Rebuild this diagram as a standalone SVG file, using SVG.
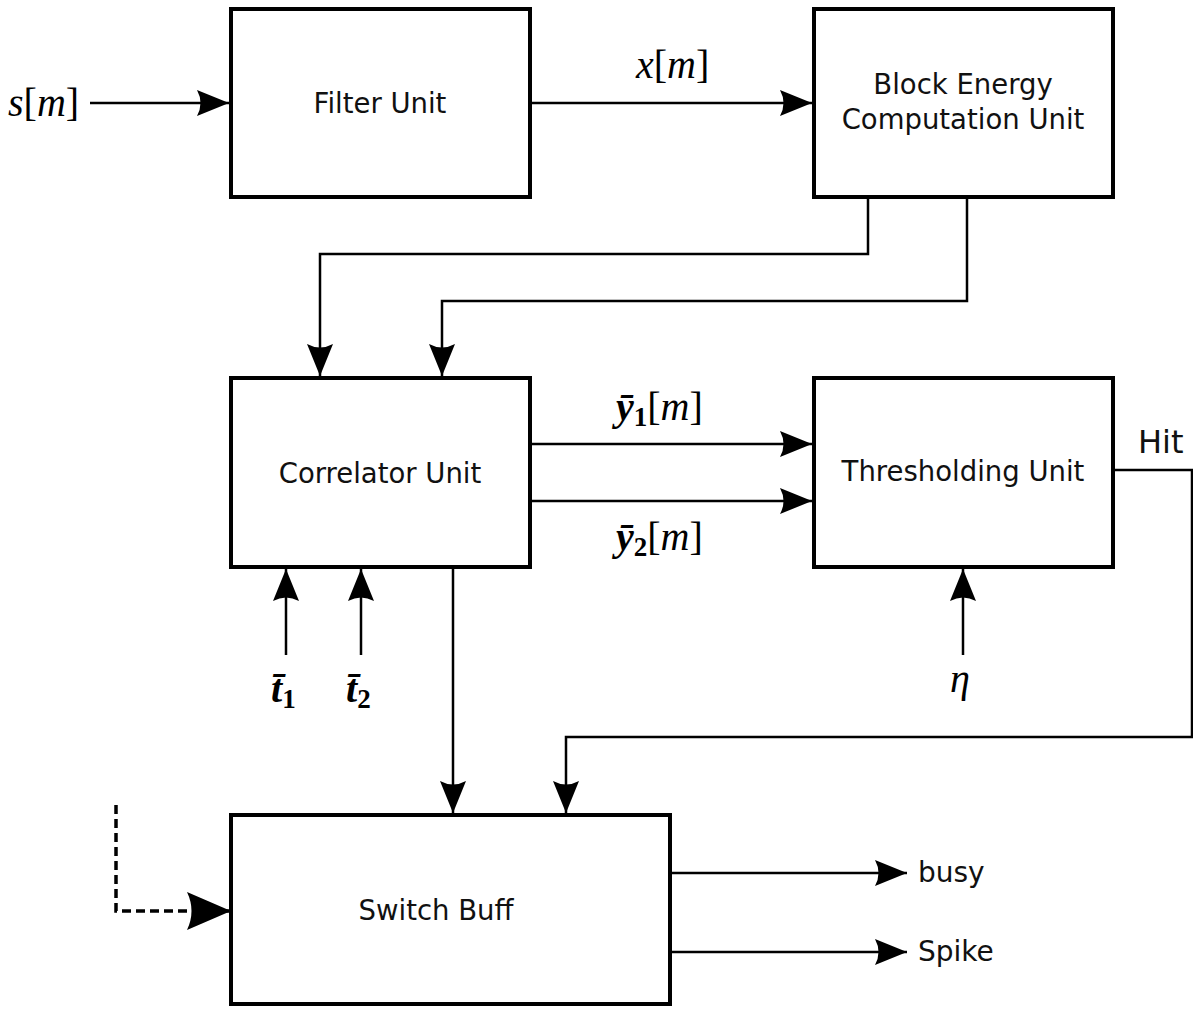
<svg xmlns="http://www.w3.org/2000/svg" width="1193" height="1009" viewBox="0 0 1193 1009">
<style>
.box{fill:#fff;stroke:#000;stroke-width:4}
.lbl{font-family:"DejaVu Sans",sans-serif;font-size:27.5px;fill:#111;text-anchor:middle}
.io{font-family:"DejaVu Sans",sans-serif;font-size:28px;fill:#111}
.hit{font-size:32px}
.m{font-family:"Liberation Serif","DejaVu Serif",serif;font-style:italic;font-size:40px;fill:#000}
.mb{font-family:"Liberation Serif","DejaVu Serif",serif;font-style:italic;font-weight:bold;font-size:40px;fill:#000}
.up{font-style:normal;font-weight:normal}
.sub{font-style:normal;font-weight:bold;font-size:27px}
.it{font-weight:normal}
.ln{fill:none;stroke:#000;stroke-width:2.5}
.dash{fill:none;stroke:#000;stroke-width:3.5;stroke-dasharray:9,5}
</style>
<defs>
<marker id="ah" markerUnits="userSpaceOnUse" markerWidth="34" markerHeight="26" refX="32" refY="13" orient="auto">
<path d="M0,0 L32,13 L0,26 Q7,13 0,0 Z" fill="#000"/>
</marker>
<marker id="ahb" markerUnits="userSpaceOnUse" markerWidth="46" markerHeight="38" refX="44" refY="19" orient="auto">
<path d="M0,0 L44,19 L0,38 Q9,19 0,0 Z" fill="#000"/>
</marker>
</defs>
<g id="connectors">
<path class="ln" d="M90,103 H229" marker-end="url(#ah)"/>
<path class="ln" d="M530,103 H812" marker-end="url(#ah)"/>
<path class="ln" d="M868,197 V254 H320 V376" marker-end="url(#ah)"/>
<path class="ln" d="M967,197 V301 H442 V376" marker-end="url(#ah)"/>
<path class="ln" d="M530,444 H812" marker-end="url(#ah)"/>
<path class="ln" d="M530,501 H812" marker-end="url(#ah)"/>
<path class="ln" d="M286,655 V569" marker-end="url(#ah)"/>
<path class="ln" d="M361,655 V569" marker-end="url(#ah)"/>
<path class="ln" d="M963,655 V569" marker-end="url(#ah)"/>
<path class="ln" d="M453,569 V813" marker-end="url(#ah)"/>
<path class="ln" d="M1113,470 H1192 V737 H566 V813" marker-end="url(#ah)"/>
<path class="dash" d="M116,805 V911 H231" marker-end="url(#ahb)"/>
<path class="ln" d="M670,873 H907" marker-end="url(#ah)"/>
<path class="ln" d="M670,952 H907" marker-end="url(#ah)"/>
</g>
<g id="filter"><rect class="box" x="231" y="9" width="299" height="188"/><text class="lbl" x="380" y="113">Filter Unit</text></g>
<g id="energy"><rect class="box" x="814" y="9" width="299" height="188"/><text class="lbl" x="963" y="94">Block Energy</text><text class="lbl" x="963" y="129">Computation Unit</text></g>
<g id="correlator"><rect class="box" x="231" y="378" width="299" height="189"/><text class="lbl" x="380" y="483">Correlator Unit</text></g>
<g id="threshold"><rect class="box" x="814" y="378" width="299" height="189"/><text class="lbl" x="963" y="481">Thresholding Unit</text></g>
<g id="switch"><rect class="box" x="231" y="815" width="439" height="189"/><text class="lbl" x="436" y="920">Switch Buff</text></g>
<g id="labels">
<text class="m" x="8" y="116">s<tspan class="up">[</tspan>m<tspan class="up">]</tspan></text>
<text class="m" x="636" y="78">x<tspan class="up">[</tspan>m<tspan class="up">]</tspan></text>
<text class="mb" x="616" y="420">ȳ<tspan class="sub" dy="6">1</tspan><tspan class="up" dy="-6">[</tspan><tspan class="it">m</tspan><tspan class="up">]</tspan></text>
<text class="mb" x="616" y="550">ȳ<tspan class="sub" dy="6">2</tspan><tspan class="up" dy="-6">[</tspan><tspan class="it">m</tspan><tspan class="up">]</tspan></text>
<text class="mb" x="271" y="702">t̄<tspan class="sub" dy="6">1</tspan></text>
<text class="mb" x="346" y="702">t̄<tspan class="sub" dy="6">2</tspan></text>
<text class="m" x="950" y="692">η</text>
<text class="io hit" x="1138" y="453">Hit</text>
<text class="io" x="918" y="882">busy</text>
<text class="io" x="918" y="961">Spike</text>
</g>
</svg>
